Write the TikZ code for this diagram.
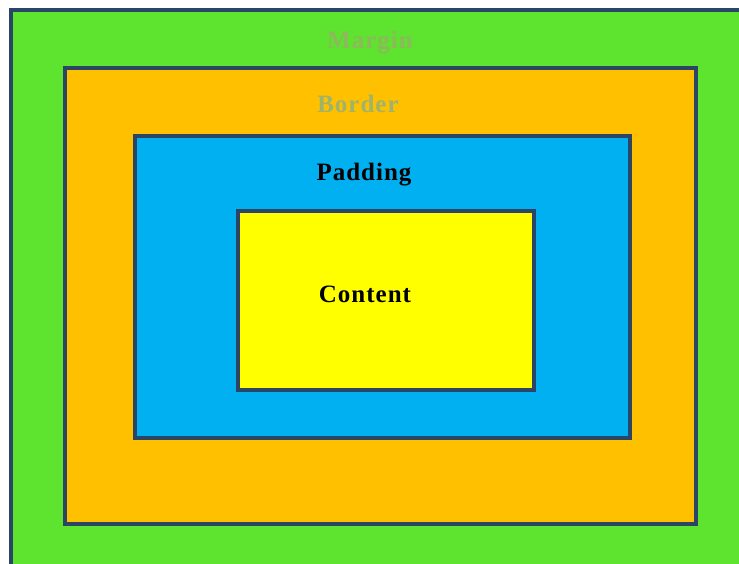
\documentclass[tikz,border=0pt]{standalone}
\usepackage{fontspec}
\setmainfont{Liberation Serif}
\definecolor{margincol}{HTML}{5EE32E}
\definecolor{bordercol}{HTML}{FFC000}
\definecolor{paddingcol}{HTML}{00B0F0}
\definecolor{contentcol}{HTML}{FFFF00}
\definecolor{edgecol}{HTML}{2A4566}
\definecolor{margintext}{HTML}{8DB85C}
\definecolor{bordertext}{HTML}{9EB46A}
\tikzset{
  box/.style={draw=edgecol, line width=4bp},
  lbl/.style={anchor=base, inner sep=0pt, font=\fontsize{25bp}{25bp}\selectfont\bfseries\addfontfeature{LetterSpace=4}}
}
\begin{document}
\begin{tikzpicture}[x=1bp,y=-1bp]
\useasboundingbox (0,0) rectangle (739,564);
\clip (0,0) rectangle (739,564);
\fill[white] (0,0) rectangle (739,564);
\draw[box, fill=margincol] (11,10) rectangle (760,590);
\draw[box, fill=bordercol] (65,68) rectangle (696,524);
\draw[box, fill=paddingcol] (135,136) rectangle (630,438);
\draw[box, fill=contentcol] (238,211) rectangle (533.5,390);
\node[lbl, text=margintext] (margin) at (370,49) {Margin};
\node[lbl, text=bordertext] (border) at (358,113) {Border};
\node[lbl, text=black] (padding) at (364,181) {Padding};
\node[lbl, text=black] (content) at (365,302) {Content};
\end{tikzpicture}
\end{document}
